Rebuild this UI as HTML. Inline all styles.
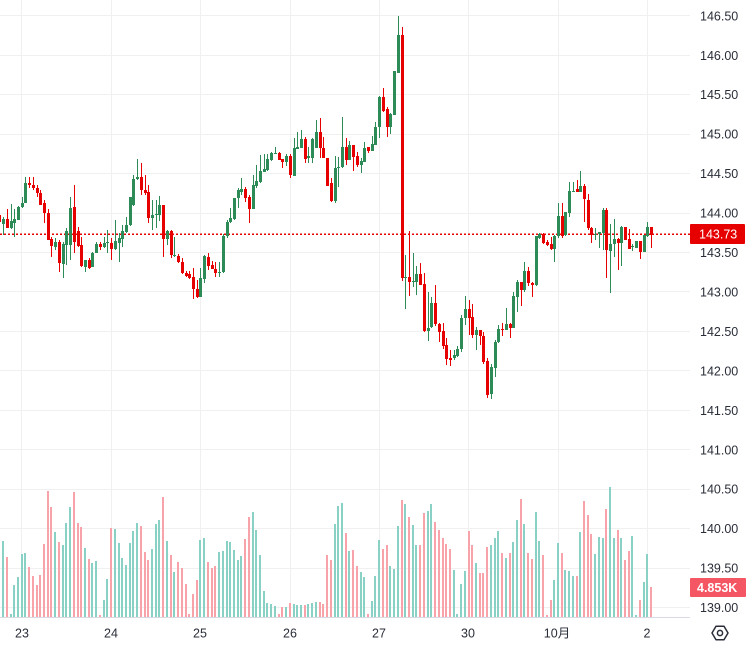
<!DOCTYPE html>
<html><head><meta charset="utf-8"><style>
html,body{margin:0;padding:0;background:#fff;}
svg{display:block;}
text{font-family:"Liberation Sans","Noto Sans CJK SC",sans-serif;}
</style></head><body>
<svg width="752" height="647" viewBox="0 0 752 647" xmlns="http://www.w3.org/2000/svg">
<rect x="0" y="0" width="752" height="647" fill="#fff"/>
<!-- horizontal grid -->
<g fill="#f0f0f0" shape-rendering="crispEdges">
<rect x="0" y="15" width="690" height="1"/><rect x="0" y="55" width="690" height="1"/><rect x="0" y="94" width="690" height="1"/><rect x="0" y="134" width="690" height="1"/><rect x="0" y="173" width="690" height="1"/><rect x="0" y="213" width="690" height="1"/><rect x="0" y="252" width="690" height="1"/><rect x="0" y="291" width="690" height="1"/><rect x="0" y="331" width="690" height="1"/><rect x="0" y="370" width="690" height="1"/><rect x="0" y="410" width="690" height="1"/><rect x="0" y="449" width="690" height="1"/><rect x="0" y="489" width="690" height="1"/><rect x="0" y="528" width="690" height="1"/><rect x="0" y="568" width="690" height="1"/><rect x="0" y="607" width="690" height="1"/>
<rect x="21" y="0" width="1" height="617"/><rect x="111" y="0" width="1" height="617"/><rect x="200" y="0" width="1" height="617"/><rect x="290" y="0" width="1" height="617"/><rect x="379" y="0" width="1" height="617"/><rect x="468" y="0" width="1" height="617"/><rect x="558" y="0" width="1" height="617"/><rect x="647" y="0" width="1" height="617"/>
</g>
<!-- volume -->
<g transform="translate(-1,0)" shape-rendering="crispEdges">
<path fill="#89d1c4" d="M3 541h2V617h-2z M11 614h2V617h-2z M14 585h2V617h-2z M18 577h2V617h-2z M22 554h2V617h-2z M25 553h2V617h-2z M55 532h2V617h-2z M63 545h2V617h-2z M66 523h2V617h-2z M70 507h2V617h-2z M85 548h2V617h-2z M92 563h2V617h-2z M96 561h2V617h-2z M104 600h2V617h-2z M107 579h2V617h-2z M115 529h2V617h-2z M119 543h2V617h-2z M122 558h2V617h-2z M126 565h2V617h-2z M130 543h2V617h-2z M133 531h2V617h-2z M137 523h2V617h-2z M152 549h2V617h-2z M156 524h2V617h-2z M159 520h2V617h-2z M167 541h2V617h-2z M174 572h2V617h-2z M200 540h2V617h-2z M204 538h2V617h-2z M219 552h2V617h-2z M223 551h2V617h-2z M227 541h2V617h-2z M230 542h2V617h-2z M234 550h2V617h-2z M238 560h2V617h-2z M241 556h2V617h-2z M253 512h2V617h-2z M256 530h2V617h-2z M260 555h2V617h-2z M264 591h2V617h-2z M267 603h2V617h-2z M271 604h2V617h-2z M275 606h2V617h-2z M286 607h2V617h-2z M294 604h2V617h-2z M297 605h2V617h-2z M301 605h2V617h-2z M308 604h2V617h-2z M312 603h2V617h-2z M316 602h2V617h-2z M335 524h2V617h-2z M338 506h2V617h-2z M342 503h2V617h-2z M349 551h2V617h-2z M361 572h2V617h-2z M364 577h2V617h-2z M372 601h2V617h-2z M375 576h2V617h-2z M379 540h2V617h-2z M390 566h2V617h-2z M394 569h2V617h-2z M398 526h2V617h-2z M405 504h2V617h-2z M413 525h2V617h-2z M416 545h2V617h-2z M428 511h2V617h-2z M431 504h2V617h-2z M454 570h2V617h-2z M457 614h2V617h-2z M461 584h2V617h-2z M465 571h2V617h-2z M476 563h2V617h-2z M491 545h2V617h-2z M495 538h2V617h-2z M498 531h2V617h-2z M506 558h2V617h-2z M513 542h2V617h-2z M517 520h2V617h-2z M524 524h2V617h-2z M536 512h2V617h-2z M539 541h2V617h-2z M554 580h2V617h-2z M558 543h2V617h-2z M565 570h2V617h-2z M569 571h2V617h-2z M573 576h2V617h-2z M580 532h2V617h-2z M595 554h2V617h-2z M599 537h2V617h-2z M603 538h2V617h-2z M610 487h2V617h-2z M614 538h2V617h-2z M621 538h2V617h-2z M632 536h2V617h-2z M636 615h2V617h-2z M644 582h2V617h-2z M647 554h2V617h-2z"/>
<path fill="#f8a3aa" d="M7 557h2V617h-2z M29 567h2V617h-2z M33 576h2V617h-2z M37 585h2V617h-2z M40 575h2V617h-2z M44 544h2V617h-2z M48 491h2V617h-2z M51 507h2V617h-2z M59 542h2V617h-2z M74 492h2V617h-2z M78 523h2V617h-2z M81 527h2V617h-2z M89 559h2V617h-2z M100 615h2V617h-2z M111 528h2V617h-2z M141 526h2V617h-2z M145 552h2V617h-2z M148 560h2V617h-2z M163 497h2V617h-2z M171 555h2V617h-2z M178 562h2V617h-2z M182 568h2V617h-2z M186 584h2V617h-2z M189 614h2V617h-2z M193 594h2V617h-2z M197 580h2V617h-2z M208 562h2V617h-2z M212 568h2V617h-2z M215 566h2V617h-2z M245 539h2V617h-2z M249 517h2V617h-2z M279 614h2V617h-2z M282 607h2V617h-2z M290 603h2V617h-2z M305 605h2V617h-2z M320 602h2V617h-2z M323 604h2V617h-2z M327 555h2V617h-2z M331 560h2V617h-2z M346 533h2V617h-2z M353 550h2V617h-2z M357 566h2V617h-2z M368 614h2V617h-2z M383 549h2V617h-2z M387 545h2V617h-2z M402 500h2V617h-2z M409 517h2V617h-2z M420 545h2V617h-2z M424 513h2V617h-2z M435 522h2V617h-2z M439 530h2V617h-2z M443 538h2V617h-2z M446 544h2V617h-2z M450 549h2V617h-2z M469 531h2V617h-2z M472 545h2V617h-2z M480 573h2V617h-2z M483 573h2V617h-2z M487 547h2V617h-2z M502 553h2V617h-2z M510 553h2V617h-2z M521 499h2V617h-2z M528 553h2V617h-2z M532 559h2V617h-2z M543 555h2V617h-2z M547 615h2V617h-2z M551 600h2V617h-2z M562 553h2V617h-2z M577 576h2V617h-2z M584 501h2V617h-2z M588 515h2V617h-2z M591 534h2V617h-2z M606 509h2V617h-2z M618 530h2V617h-2z M625 560h2V617h-2z M629 551h2V617h-2z M640 600h2V617h-2z M651 587h2V617h-2z"/>
</g>
<!-- bottom line -->
<rect x="0" y="617" width="690" height="1" fill="#d9d9e3"/>
<!-- price line -->
<line x1="0" y1="234.2" x2="690" y2="234.2" stroke="#e60000" stroke-width="1.5" stroke-dasharray="2 2"/>
<!-- candles -->
<g shape-rendering="crispEdges">
<path fill="none" stroke="#2c8b57" stroke-width="1" d="M3.5 217V235 M11.5 204V229 M14.5 209V237 M18.5 206V220 M22.5 197V208 M25.5 177V203 M55.5 238V250 M63.5 242V278 M66.5 228V265 M70.5 197V260 M85.5 260V272 M92.5 252V267 M96.5 242V253 M104.5 237V248 M107.5 230V253 M115.5 220V250 M119.5 233V262 M122.5 225V247 M126.5 217V233 M130.5 197V226 M133.5 175V206 M137.5 159V180 M152.5 200V230 M156.5 200V228 M159.5 196V221 M167.5 230V245 M174.5 237V257 M200.5 268V297 M204.5 255V283 M219.5 262V277 M223.5 234V273 M227.5 220V238 M230.5 208V223 M234.5 198V220 M238.5 188V208 M241.5 178V195 M253.5 175V209 M256.5 165V188 M260.5 155V183 M264.5 154V172 M267.5 154V171 M271.5 152V161 M275.5 147V154 M286.5 154V166 M294.5 138V176 M297.5 132V149 M301.5 130V148 M308.5 147V163 M312.5 138V163 M316.5 120V148 M335.5 156V203 M338.5 157V187 M342.5 117V168 M349.5 141V160 M361.5 158V173 M364.5 142V162 M372.5 136V151 M375.5 122V145 M379.5 96V138 M390.5 113V134 M394.5 71V115 M398.5 16V73 M405.5 255V309 M413.5 253V287 M416.5 266V295 M428.5 292V341 M431.5 297V328 M454.5 350V360 M457.5 346V357 M461.5 315V352 M465.5 296V325 M476.5 327V350 M491.5 364V399 M495.5 340V377 M498.5 325V343 M506.5 308V330 M513.5 292V328 M517.5 280V312 M524.5 262V292 M536.5 236V286 M539.5 233V239 M554.5 235V262 M558.5 203V238 M565.5 212V236 M569.5 182V217 M573.5 182V192 M580.5 171V192 M595.5 228V240 M599.5 232V248 M603.5 208V250 M610.5 224V293 M614.5 219V257 M621.5 226V266 M632.5 244V251 M636.5 241V248 M644.5 235V252 M647.5 222V237"/>
<path fill="#2c8b57" d="M2 219h3V224h-3z M10 221h3V228h-3z M13 219h3V223h-3z M17 207h3V220h-3z M21 203h3V207h-3z M24 183h3V203h-3z M54 242h3V247h-3z M62 244h3V264h-3z M65 231h3V245h-3z M69 208h3V245h-3z M84 260h3V267h-3z M91 253h3V267h-3z M95 244h3V253h-3z M103 243h3V247h-3z M106 242h3V243h-3z M114 241h3V249h-3z M118 238h3V243h-3z M121 231h3V239h-3z M125 225h3V232h-3z M129 197h3V225h-3z M132 179h3V205h-3z M136 177h3V179h-3z M151 215h3V218h-3z M155 214h3V215h-3z M158 205h3V215h-3z M166 231h3V239h-3z M173 255h3V256h-3z M199 278h3V297h-3z M203 256h3V279h-3z M218 272h3V273h-3z M222 236h3V272h-3z M226 222h3V236h-3z M229 218h3V222h-3z M233 198h3V219h-3z M237 190h3V198h-3z M240 189h3V192h-3z M252 185h3V209h-3z M255 181h3V186h-3z M259 171h3V182h-3z M263 169h3V172h-3z M266 159h3V170h-3z M270 153h3V160h-3z M274 153h3V154h-3z M285 156h3V162h-3z M293 148h3V176h-3z M296 147h3V149h-3z M300 139h3V148h-3z M307 156h3V158h-3z M311 139h3V158h-3z M315 132h3V148h-3z M334 168h3V201h-3z M337 167h3V168h-3z M341 147h3V167h-3z M348 145h3V160h-3z M360 161h3V165h-3z M363 148h3V162h-3z M371 144h3V151h-3z M374 127h3V145h-3z M378 97h3V127h-3z M389 114h3V127h-3z M393 71h3V115h-3z M397 35h3V73h-3z M404 277h3V278h-3z M412 281h3V282h-3z M415 274h3V282h-3z M427 328h3V331h-3z M430 303h3V327h-3z M453 355h3V358h-3z M456 349h3V356h-3z M460 318h3V349h-3z M464 309h3V318h-3z M475 330h3V335h-3z M490 367h3V394h-3z M494 342h3V368h-3z M497 329h3V342h-3z M505 324h3V330h-3z M512 296h3V328h-3z M516 282h3V297h-3z M523 271h3V290h-3z M535 236h3V285h-3z M538 234h3V238h-3z M553 236h3V249h-3z M557 216h3V236h-3z M564 212h3V235h-3z M568 191h3V213h-3z M572 191h3V192h-3z M579 186h3V192h-3z M594 234h3V235h-3z M598 232h3V234h-3z M602 210h3V233h-3z M609 244h3V251h-3z M613 239h3V244h-3z M620 227h3V243h-3z M631 246h3V247h-3z M635 241h3V248h-3z M643 235h3V252h-3z M646 227h3V236h-3z"/>
<path fill="none" stroke="#e60000" stroke-width="1" d="M-0.5 213V226 M7.5 209V228 M29.5 177V188 M33.5 177V190 M37.5 185V197 M40.5 190V205 M44.5 200V223 M48.5 209V240 M51.5 237V257 M59.5 240V272 M74.5 185V253 M78.5 227V247 M81.5 237V267 M89.5 258V269 M100.5 242V250 M111.5 238V260 M141.5 163V195 M145.5 175V195 M148.5 185V223 M163.5 205V257 M171.5 230V258 M178.5 254V263 M182.5 258V274 M186.5 271V277 M189.5 271V279 M193.5 268V299 M197.5 280V298 M208.5 253V270 M212.5 261V269 M215.5 262V277 M245.5 187V202 M249.5 195V223 M279.5 152V160 M282.5 159V168 M290.5 154V178 M305.5 137V163 M320.5 118V158 M323.5 137V158 M327.5 158V186 M331.5 178V202 M346.5 138V165 M353.5 145V171 M357.5 152V167 M368.5 147V153 M383.5 88V112 M387.5 107V137 M402.5 27V281 M409.5 231V296 M420.5 263V285 M424.5 273V332 M435.5 285V326 M439.5 323V342 M443.5 323V349 M446.5 338V365 M450.5 350V366 M469.5 300V335 M472.5 304V338 M480.5 330V345 M483.5 332V364 M487.5 358V398 M502.5 323V336 M510.5 323V338 M521.5 282V306 M528.5 267V286 M532.5 282V297 M543.5 233V244 M547.5 240V246 M551.5 237V250 M562.5 203V238 M577.5 180V192 M584.5 184V222 M588.5 194V230 M591.5 227V243 M606.5 208V278 M618.5 238V270 M625.5 227V240 M629.5 229V249 M640.5 241V259 M651.5 227V248"/>
<path fill="#e60000" d="M-2 215h3V222h-3z M6 219h3V228h-3z M28 183h3V185h-3z M32 185h3V188h-3z M36 188h3V193h-3z M39 193h3V205h-3z M43 203h3V213h-3z M47 213h3V240h-3z M50 239h3V246h-3z M58 242h3V263h-3z M73 207h3V242h-3z M77 231h3V246h-3z M80 245h3V266h-3z M88 260h3V268h-3z M99 244h3V247h-3z M110 243h3V249h-3z M140 177h3V190h-3z M144 190h3V193h-3z M147 192h3V218h-3z M162 205h3V239h-3z M170 231h3V255h-3z M177 256h3V262h-3z M181 262h3V273h-3z M185 273h3V276h-3z M188 274h3V278h-3z M192 277h3V289h-3z M196 289h3V297h-3z M207 257h3V266h-3z M211 265h3V269h-3z M214 269h3V273h-3z M244 189h3V198h-3z M248 197h3V209h-3z M278 153h3V160h-3z M281 159h3V162h-3z M289 156h3V175h-3z M304 139h3V159h-3z M319 132h3V148h-3z M322 148h3V158h-3z M326 158h3V186h-3z M330 183h3V201h-3z M345 147h3V160h-3z M352 145h3V157h-3z M356 156h3V165h-3z M367 147h3V151h-3z M382 97h3V111h-3z M386 109h3V127h-3z M401 35h3V278h-3z M408 277h3V282h-3z M419 274h3V285h-3z M423 284h3V331h-3z M434 303h3V324h-3z M438 324h3V332h-3z M442 331h3V346h-3z M445 345h3V359h-3z M449 358h3V360h-3z M468 309h3V318h-3z M471 317h3V335h-3z M479 330h3V336h-3z M482 336h3V362h-3z M486 361h3V395h-3z M501 329h3V330h-3z M509 324h3V328h-3z M520 282h3V290h-3z M527 271h3V283h-3z M531 283h3V285h-3z M542 234h3V243h-3z M546 242h3V245h-3z M550 244h3V249h-3z M561 216h3V236h-3z M576 189h3V192h-3z M583 186h3V199h-3z M587 200h3V228h-3z M590 228h3V235h-3z M605 210h3V250h-3z M617 239h3V243h-3z M624 227h3V240h-3z M628 239h3V249h-3z M639 241h3V252h-3z M650 227h3V235h-3z"/>
</g>
<!-- price axis labels -->
<g fill="#2a2e39" font-size="12.5">
<text x="700" y="20.3">146.50</text>
<text x="700" y="59.8">146.00</text>
<text x="700" y="99.2">145.50</text>
<text x="700" y="138.7">145.00</text>
<text x="700" y="178.1">144.50</text>
<text x="700" y="217.6">144.00</text>
<text x="700" y="257">143.50</text>
<text x="700" y="296.5">143.00</text>
<text x="700" y="335.9">142.50</text>
<text x="700" y="375.4">142.00</text>
<text x="700" y="414.8">141.50</text>
<text x="700" y="454.3">141.00</text>
<text x="700" y="493.7">140.50</text>
<text x="700" y="533.2">140.00</text>
<text x="700" y="572.6">139.50</text>
<text x="700" y="612">139.00</text>
</g>
<!-- last price label -->
<rect x="690" y="224" width="55" height="20" rx="1" fill="#e60000"/>
<text x="699" y="238.5" fill="#fff" font-size="12.5">143.73</text>
<!-- volume label -->
<rect x="690" y="578" width="56" height="19" rx="1" fill="#f45663"/>
<text x="697" y="592" fill="#fff" font-size="12.5" font-weight="bold">4.853K</text>
<!-- time axis -->
<g fill="#2a2e39" font-size="12.5" text-anchor="middle">
<text x="22" y="637.5">23</text>
<text x="111" y="637.5">24</text>
<text x="200" y="637.5">25</text>
<text x="290" y="637.5">26</text>
<text x="379" y="637.5">27</text>
<text x="468" y="637.5">30</text>
<text x="557" y="637.5">10月</text>
<text x="647" y="637.5">2</text>
</g>
<!-- settings icon -->
<polygon points="712,633 716,626.2 724,626.2 728,633 724,639.8 716,639.8" fill="none" stroke="#2a2e39" stroke-width="1.5" stroke-linejoin="round"/>
<circle cx="720" cy="633" r="2.6" fill="none" stroke="#2a2e39" stroke-width="1.5"/>
</svg>
</body></html>
